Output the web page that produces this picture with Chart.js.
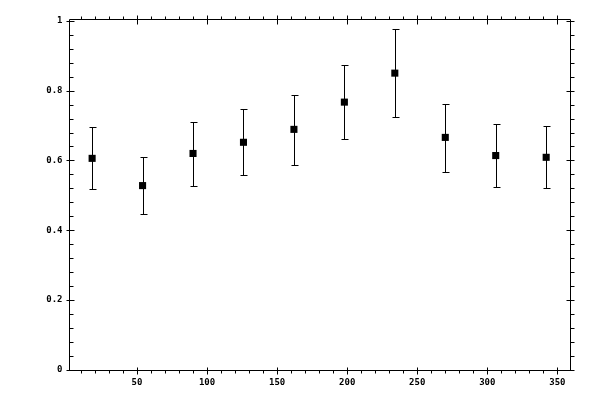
<!DOCTYPE html>
<html>
<head>
<meta charset="utf-8">
<script src="https://cdn.jsdelivr.net/npm/chart.js@4/dist/chart.umd.min.js"></script>
<style>
  html, body { margin: 0; padding: 0; background: #fff; }
  #wrap { width: 600px; height: 400px; }
</style>
</head>
<body>
<div id="wrap"><canvas id="chart"></canvas></div>
<script>
// bin centres (degrees) and measured values with error limits
const xs = [18, 54, 90, 126, 162, 198, 234, 270, 306, 342]
const ys = [0.606, 0.528, 0.620, 0.652, 0.689, 0.767, 0.850, 0.666, 0.614, 0.609]
const lows = [0.517, 0.448, 0.528, 0.557, 0.588, 0.660, 0.724, 0.568, 0.525, 0.522]
const highs = [0.695, 0.610, 0.711, 0.747, 0.786, 0.873, 0.975, 0.763, 0.705, 0.698]

const xMajor = [50, 100, 150, 200, 250, 300, 350]
const yMajor = [0, 0.2, 0.4, 0.6, 0.8, 1]
const yMajorLabels = ["0", "0.2", "0.4", "0.6", "0.8", "1"]
const xMinorStep = 10
const yMinorStep = 0.04

const FONT = 'bold 9px "DejaVu Sans Mono"'

// error bars drawn behind the square markers
const errorBars = {
    id: "errorBars",
    beforeDatasetsDraw(chart) {
        const ctx = chart.ctx
        const sx = chart.scales.x, sy = chart.scales.y
        ctx.save()
        ctx.strokeStyle = "#000"
        ctx.lineWidth = 1
        xs.forEach((x, i) => {
            const px = Math.round(sx.getPixelForValue(x)) + 0.5
            const top = Math.round(sy.getPixelForValue(highs[i])) + 0.5
            const bot = Math.round(sy.getPixelForValue(lows[i])) + 0.5
            ctx.beginPath()
            ctx.moveTo(px, top); ctx.lineTo(px, bot)
            ctx.moveTo(px - 3, top); ctx.lineTo(px + 4, top)
            ctx.moveTo(px - 3, bot); ctx.lineTo(px + 4, bot)
            ctx.stroke()
        })
        ctx.restore()
    }
}

// box frame, ticks on all four sides and tick labels
const frame = {
    id: "frame",
    afterDraw(chart) {
        const ctx = chart.ctx
        const a = chart.chartArea
        const sx = chart.scales.x, sy = chart.scales.y
        const L = Math.round(a.left) + 0.5, R = Math.round(a.right) + 0.5
        const T = Math.round(a.top) + 0.5, B = Math.round(a.bottom) + 0.5
        ctx.save()
        ctx.strokeStyle = "#000"
        ctx.lineWidth = 1
        ctx.beginPath()
        ctx.rect(L, T, R - L, B - T)

        // x minor / major ticks
        for (let v = xMinorStep; v < sx.max; v += xMinorStep) {
            const px = Math.round(sx.getPixelForValue(v)) + 0.5
            if (v % 50 === 0) {
                ctx.moveTo(px, B - 3); ctx.lineTo(px, B + 4)
                ctx.moveTo(px, T + 5); ctx.lineTo(px, T - 4)
            } else {
                ctx.moveTo(px, B); ctx.lineTo(px, B + 3)
                ctx.moveTo(px, T); ctx.lineTo(px, T - 3)
            }
        }
        // y minor / major ticks
        for (let k = 0; k * yMinorStep <= sy.max + 1e-9; k++) {
            const v = k * yMinorStep
            const py = Math.round(sy.getPixelForValue(v)) + 0.5
            const major = k % 5 === 0
            if (major) {
                ctx.moveTo(L - 3, py); ctx.lineTo(L + 5, py)
                ctx.moveTo(R - 4, py); ctx.lineTo(R + 4, py)
            } else {
                ctx.moveTo(L, py); ctx.lineTo(L + 4, py)
                ctx.moveTo(R, py); ctx.lineTo(R + 4, py)
            }
        }
        ctx.stroke()

        ctx.fillStyle = "#000"
        ctx.font = FONT
        ctx.textAlign = "center"
        ctx.textBaseline = "middle"
        xMajor.forEach(v => {
            ctx.fillText(String(v), sx.getPixelForValue(v), B + 12)
        })
        ctx.textAlign = "right"
        yMajor.forEach((v, i) => {
            ctx.fillText(yMajorLabels[i], L - 7, sy.getPixelForValue(v))
        })
        ctx.restore()
    }
}

new Chart(document.getElementById("chart"), {
    type: "scatter",
    data: {
        datasets: [{
            data: xs.map((x, i) => ({ x: x, y: ys[i] })),
            pointStyle: "rect",
            radius: 5,
            backgroundColor: "#000",
            borderColor: "#000",
            borderWidth: 0,
        }]
    },
    options: {
        responsive: true,
        maintainAspectRatio: false,
        animation: false,
        devicePixelRatio: 1,
        layout: { padding: { left: 69, right: 30, top: 19, bottom: 30 } },
        plugins: { legend: { display: false }, tooltip: { enabled: false } },
        scales: {
            x: { type: "linear", min: 1.5, max: 359, display: false },
            y: { type: "linear", min: 0, max: 1.005, display: false },
        }
    },
    plugins: [errorBars, frame]
})
</script>
</body>
</html>
